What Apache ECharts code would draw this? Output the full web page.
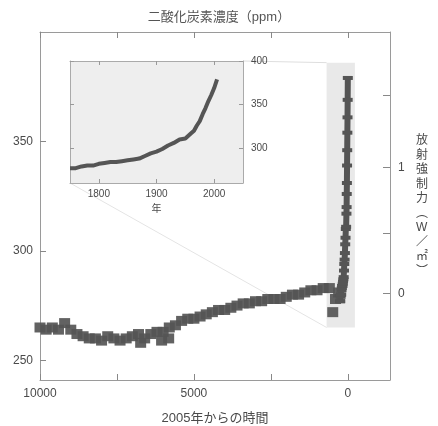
<!DOCTYPE html>
<html>
<head>
<meta charset="utf-8">
<script src="https://cdn.jsdelivr.net/npm/echarts@6/dist/echarts.min.js"></script>
<style>
html, body { margin: 0; background: #fff; }
#chart { width: 438px; height: 426px; }
</style>
</head>
<body>
<div id="chart"></div>
<script>
// Holocene ice-core CO2 (years before 2005, ppm)
const holoAge = [10000, 9800, 9600, 9400, 9200, 9000, 8800, 8600, 8400, 8200, 8000, 7800, 7600, 7400, 7200,
  7000, 6800, 6730, 6600, 6400, 6200, 6050, 6000, 5820, 5800, 5600, 5400, 5200, 5000, 4800, 4600, 4400, 4200,
  4000, 3800, 3600, 3400, 3200, 3000, 2800, 2600, 2400, 2200, 2000, 1800, 1600, 1400, 1200, 1000, 800, 600, 490, 400, 300]
const holoCO2 = [265, 264, 265, 264, 267, 264, 262, 261, 260, 260, 259, 261, 260, 259, 260,
  261, 262, 258, 260, 262, 263, 259, 263, 260, 265, 266, 268, 269, 269, 270, 271, 272, 273,
  273, 274, 275, 276, 276, 277, 277, 278, 278, 278, 279, 280, 280, 281, 282, 282, 283, 283, 272, 278, 281]

// recent record (calendar year, ppm) - used in the inset and as the spike
const recentYear = [1750, 1760, 1770, 1780, 1790, 1800, 1810, 1820, 1830, 1840, 1850, 1860, 1870, 1880, 1890,
  1900, 1910, 1920, 1930, 1940, 1950, 1960, 1965, 1970, 1975, 1980, 1985, 1990, 1995, 2000, 2005]
const recentCO2 = [277, 277, 279, 280, 280, 282, 283, 284, 284, 285, 286, 287, 288, 291, 294,
  296, 299, 303, 306, 310, 311, 317, 320, 326, 331, 339, 346, 354, 361, 369, 379]

// tick labels
const mainXTicks = [0, 2500, 5000, 7500, 10000]
const mainXLabels = [0, 5000, 10000]
const mainYLabels = [250, 300, 350]
const forcingTicks = [0, 0.5, 1, 1.5]
const forcingLabels = [0, 1]
const insetXLabels = [1800, 1900, 2000]
const insetYLabels = [300, 350, 400]

// shaded zoom region (years before 2005, ppm)
const shadeAge = [690, -230]
const shadeCO2 = [265, 386]

const C0 = 280.5
const toPpm = f => C0 * Math.exp(f / 5.35)
const toForcing = c => 5.35 * Math.log(c / C0)

const FONT = "'Liberation Sans', 'Noto Sans CJK JP', sans-serif"
const TXT = '#4a4a4a'
const label = (size) => ({ color: TXT, fontSize: size, fontFamily: FONT })
const plain = v => String(v)

const mainData = holoAge.map((a, i) => [a, holoCO2[i]])
const spikeData = recentYear.map((y, i) => [2005 - y, recentCO2[i]])
const insetData = recentYear.map((y, i) => [y, recentCO2[i]])

const frame = { show: true, onZero: false, lineStyle: { color: '#9a9a9a', width: 1 } }
const insetFrame = { show: true, onZero: false, lineStyle: { color: '#aaa', width: 1 } }

const myChart = echarts.init(document.getElementById('chart'))
myChart.setOption({
  animation: false,
  title: {
    text: '二酸化炭素濃度（ppm）',
    left: 'center',
    top: 6,
    textStyle: { color: '#555', fontSize: 13, fontWeight: 'normal', fontFamily: FONT }
  },
  grid: [
    { left: 40, right: 48, top: 32, bottom: 46, containLabel: false, outerBoundsMode: 'none' },
    { left: 70, right: 195, top: 61, bottom: 243, containLabel: false, outerBoundsMode: 'none',
      show: true, borderWidth: 0, backgroundColor: '#eeeeee', z: 3 }
  ],
  xAxis: [
    {
      type: 'value', gridIndex: 0, min: -1370, max: 10000, inverse: true,
      axisLine: frame, splitLine: { show: false },
      axisTick: { inside: true, length: 6, lineStyle: { color: '#888' }, customValues: mainXTicks },
      axisLabel: Object.assign(label(12), { margin: 8, customValues: mainXLabels, formatter: plain }),
      name: '2005年からの時間', nameLocation: 'middle', nameGap: 32,
      nameTextStyle: label(13)
    },
    {
      type: 'value', gridIndex: 0, position: 'top', min: -1370, max: 10000, inverse: true,
      axisLine: frame, splitLine: { show: false }, axisLabel: { show: false },
      axisTick: { inside: true, length: 6, lineStyle: { color: '#888' }, customValues: mainXTicks }
    },
    {
      type: 'value', gridIndex: 1, min: 1750, max: 2050, z: 4,
      axisLine: insetFrame, splitLine: { show: false },
      axisTick: { inside: true, length: 4, lineStyle: { color: '#999' }, customValues: insetXLabels },
      axisLabel: Object.assign(label(10), { margin: 6, customValues: insetXLabels, formatter: plain }),
      name: '年', nameLocation: 'middle', nameGap: 21, nameTextStyle: label(10)
    },
    {
      type: 'value', gridIndex: 1, position: 'top', min: 1750, max: 2050, z: 4,
      axisLine: insetFrame, splitLine: { show: false }, axisLabel: { show: false },
      axisTick: { inside: true, length: 4, lineStyle: { color: '#999' }, customValues: insetXLabels }
    }
  ],
  yAxis: [
    {
      type: 'value', gridIndex: 0, min: 241, max: 400,
      axisLine: frame, splitLine: { show: false },
      axisTick: { inside: true, length: 6, lineStyle: { color: '#888' }, customValues: mainYLabels },
      axisLabel: Object.assign(label(12), { margin: 7, customValues: mainYLabels })
    },
    {
      type: 'value', gridIndex: 0, position: 'right', min: 241, max: 400,
      axisLine: frame, splitLine: { show: false },
      axisTick: { inside: true, length: 7, lineStyle: { color: '#888' }, customValues: forcingTicks.map(toPpm) },
      axisLabel: Object.assign(label(12), {
        margin: 8,
        customValues: forcingLabels.map(toPpm),
        formatter: v => String(Math.round(toForcing(v)))
      }),
      name: ['放', '射', '強', '制', '力', '︵', 'W', '／', '㎡', '︶'].join('\n'),
      nameLocation: 'middle', nameRotate: 0, nameGap: 26,
      nameTextStyle: Object.assign(label(12), { align: 'left', verticalAlign: 'middle', lineHeight: 14.5 })
    },
    {
      type: 'value', gridIndex: 1, position: 'right', min: 260, max: 400, z: 4,
      axisLine: insetFrame, splitLine: { show: false },
      axisTick: { inside: true, length: 4, lineStyle: { color: '#999' }, customValues: insetYLabels },
      axisLabel: Object.assign(label(10), { margin: 8, customValues: insetYLabels })
    },
    {
      type: 'value', gridIndex: 1, position: 'left', min: 260, max: 400, z: 4,
      axisLine: insetFrame, splitLine: { show: false }, axisLabel: { show: false },
      axisTick: { inside: true, length: 4, lineStyle: { color: '#999' }, customValues: insetYLabels }
    }
  ],
  series: [
    {
      type: 'scatter', xAxisIndex: 0, yAxisIndex: 0,
      symbol: 'rect', symbolSize: [11, 10],
      itemStyle: { color: '#555555', opacity: 0.92 },
      data: mainData,
      markArea: {
        silent: true,
        itemStyle: { color: '#e9e9e9' },
        data: [[{ coord: [shadeAge[0], shadeCO2[0]] }, { coord: [shadeAge[1], shadeCO2[1]] }]]
      }
    },
    {
      type: 'line', xAxisIndex: 0, yAxisIndex: 0,
      symbol: 'rect', symbolSize: [10, 4], showSymbol: true,
      itemStyle: { color: '#555' },
      lineStyle: { color: '#555', width: 6 },
      data: spikeData
    },
    {
      type: 'line', xAxisIndex: 2, yAxisIndex: 2, z: 6,
      showSymbol: false,
      lineStyle: { color: '#555', width: 4 },
      data: insetData
    }
  ]
})

// faint connector lines between the inset and the shaded region
const p1 = myChart.convertToPixel({ gridIndex: 1 }, [2050, 400])
const q1 = myChart.convertToPixel({ gridIndex: 0 }, [shadeAge[0], shadeCO2[1]])
const p2 = myChart.convertToPixel({ gridIndex: 1 }, [1750, 260])
const q2 = myChart.convertToPixel({ gridIndex: 0 }, [shadeAge[0], shadeCO2[0]])
myChart.setOption({
  graphic: [
    { type: 'line', z: 1, shape: { x1: p1[0], y1: p1[1], x2: q1[0], y2: q1[1] }, style: { stroke: '#dedede', lineWidth: 1 } },
    { type: 'line', z: 1, shape: { x1: p2[0], y1: p2[1], x2: q2[0], y2: q2[1] }, style: { stroke: '#e4e4e4', lineWidth: 1 } }
  ]
})
</script>
</body>
</html>
